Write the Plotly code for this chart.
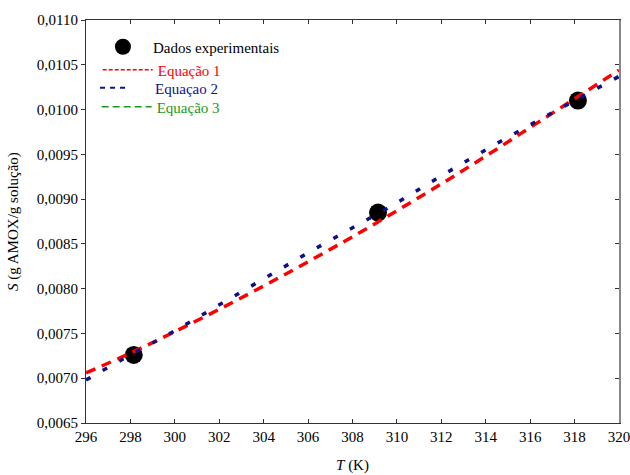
import plotly.graph_objects as go

# Experimental data
T_exp = [298.15, 309.15, 318.15]
S_exp = [0.00726, 0.00885, 0.01010]

# Model curves (at 2 K steps)
T_model = [296, 298, 300, 302, 304, 306, 308, 310, 312, 314, 316, 318, 320]
S_eq1 = [0.00706, 0.00728, 0.00752, 0.00777, 0.00803, 0.00830, 0.00858,
         0.00887, 0.00917, 0.00948, 0.00980, 0.01012, 0.01044]
S_eq2 = [0.00698, 0.00726, 0.00753, 0.00782, 0.00811, 0.00840, 0.00868,
         0.00896, 0.00926, 0.00955, 0.00983, 0.01010, 0.01037]
S_eq3 = [0.00699, 0.00726, 0.00752, 0.00781, 0.00810, 0.00839, 0.00867,
         0.00895, 0.00925, 0.00954, 0.00982, 0.01009, 0.01036]

x_ticks = list(range(296, 321, 2))

FONT = "Liberation Serif"
RED = "#ff0000"
BLUE = "#10108c"
GREEN = "#1a9a1a"

fig = go.Figure()

# experimental points (drawn under lines)
fig.add_trace(go.Scatter(x=T_exp, y=S_exp, mode="markers",
                         marker=dict(color="black", size=18),
                         name="Dados experimentais", legend="legend"))
fig.add_trace(go.Scatter(x=T_model, y=S_eq1, mode="lines", line_shape="spline",
                         line=dict(color=RED, width=3.5, dash="10px,7px"),
                         showlegend=False))
fig.add_trace(go.Scatter(x=T_model, y=S_eq3, mode="lines", line_shape="spline",
                         line=dict(color=GREEN, width=1.5, dash="4px,15px"),
                         showlegend=False))
fig.add_trace(go.Scatter(x=T_model, y=S_eq2, mode="lines", line_shape="spline",
                         line=dict(color=BLUE, width=3.5, dash="5px,14px"),
                         showlegend=False))

# legend-only entries (each in its own legend box)
fig.add_trace(go.Scatter(x=[None], y=[None], mode="lines",
                         line=dict(color=RED, width=1.5, dash="4px,2px"),
                         name="<span style='color:#ff0000'>Equação 1</span>",
                         legend="legend2"))
fig.add_trace(go.Scatter(x=[None], y=[None], mode="lines",
                         line=dict(color=BLUE, width=2,
                                   dash="5px,5px,5px,5px,5px,40px"),
                         name="<span style='color:#10108c'>Equaçao 2</span>",
                         legend="legend3"))
fig.add_trace(go.Scatter(x=[None], y=[None], mode="lines",
                         line=dict(color=GREEN, width=1.5, dash="7px,4px"),
                         name="<span style='color:#1a9a1a'>Equação 3</span>",
                         legend="legend4"))

# helper trace for right axis
fig.add_trace(go.Scatter(x=[None], y=[None], yaxis="y2", showlegend=False,
                         hoverinfo="skip"))

AX = "#333333"


def leg(x, y):
    return dict(x=x, y=y, xanchor="left", yanchor="middle",
                bgcolor="rgba(0,0,0,0)", borderwidth=0, itemwidth=50,
                font=dict(family=FONT, size=15))


fig.update_layout(
    width=630, height=475,
    margin=dict(l=86, r=11, t=20, b=52),
    paper_bgcolor="white", plot_bgcolor="white",
    separators=",.",
    font=dict(family=FONT, size=15, color="black"),
    showlegend=True,
    legend=leg(0.013, 0.933),
    legend2=leg(0.022, 0.876),
    legend3=leg(0.017, 0.831),
    legend4=leg(0.020, 0.784),
    xaxis=dict(range=[296, 320], tickvals=x_ticks, ticks="inside", ticklen=4,
               tickcolor=AX, showline=True, linecolor=AX, linewidth=1,
               mirror="ticks", showgrid=False, zeroline=False, automargin=False,
               ticklabeloverflow="allow",
               title=dict(text="<i>T</i> (K)", standoff=15,
                          font=dict(family=FONT, size=15))),
    yaxis=dict(range=[0.0065, 0.0110], dtick=0.0005, tick0=0.0065,
               tickformat=".4f", ticks="outside", ticklen=4, tickcolor=AX,
               showline=True, linecolor=AX, linewidth=1, mirror=False,
               showgrid=False, zeroline=False, automargin=False,
               title=dict(text="<i>S</i> (g AMOX/g solução)", standoff=14,
                          font=dict(family=FONT, size=15))),
    yaxis2=dict(range=[0.0065, 0.0110], dtick=0.0005, tick0=0.0065,
                overlaying="y", side="right", ticks="inside", ticklen=4,
                tickcolor=AX, showticklabels=False, showline=True,
                linecolor="#888888", linewidth=2,
                showgrid=False, zeroline=False, automargin=False),
)

fig.write_html("out.html",
               config={"displayModeBar": False},
               post_script="document.body.style.margin='0';"
                           "document.body.style.overflow='hidden';")
